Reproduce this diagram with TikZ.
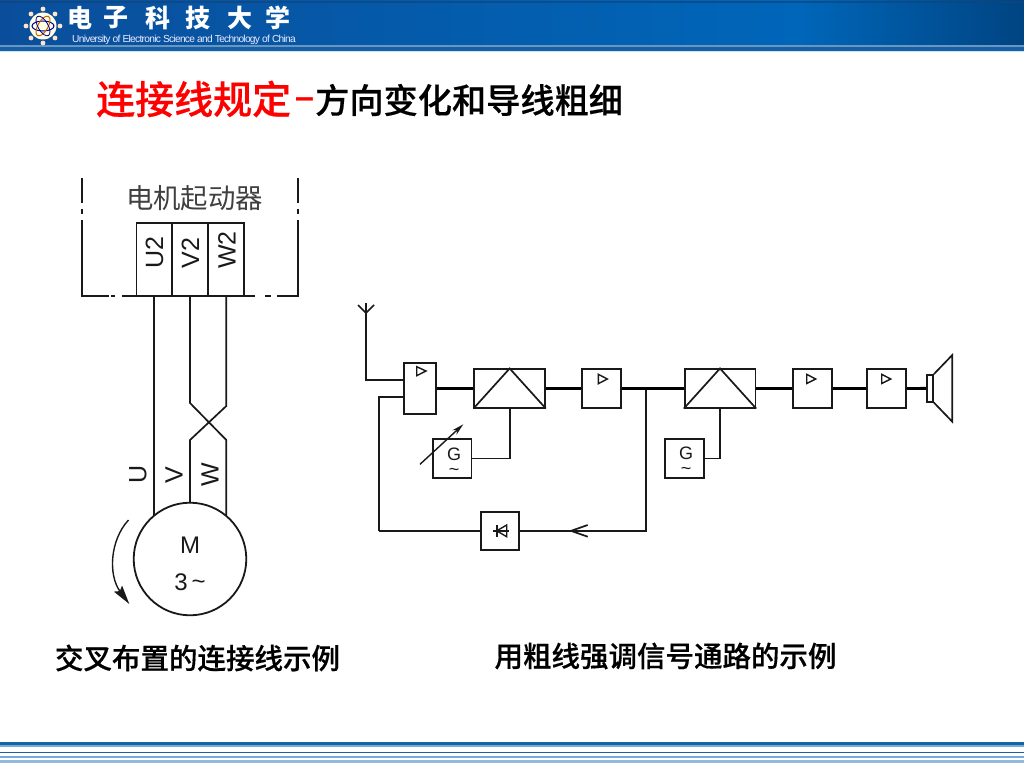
\documentclass[tikz,border=0pt]{standalone}
\usepackage{fontspec}
\setmainfont{Liberation Sans}
\newfontfamily\cjk{Noto Sans CJK SC}
\newfontfamily\cjkm[FakeBold=0.45]{Noto Sans CJK SC Medium}
\usetikzlibrary{arrows.meta}
\definecolor{hdtop}{RGB}{15,70,125}
\definecolor{hdl}{RGB}{10,78,155}
\definecolor{hdm}{RGB}{0,102,185}
\definecolor{hdr}{RGB}{0,68,130}
\definecolor{hdbar}{RGB}{105,150,190}
\definecolor{hdlow}{RGB}{25,95,165}
\definecolor{hdlight}{RGB}{195,230,250}
\definecolor{foot}{RGB}{20,100,165}
\definecolor{footl}{RGB}{120,170,215}
\definecolor{ink}{RGB}{25,25,25}
\tikzset{
  wire/.style={draw=ink,line width=1.7pt},
  thick wire/.style={draw=black,line width=2.8pt},
  boxn/.style={draw=ink,line width=1.7pt,inner sep=0pt,fill=white},
  lab/.style={inner sep=0pt,text=ink},
  tri/.style={draw=ink,line width=1.4pt,line join=miter},
  bordash/.style={draw=ink,line width=1.9pt},
  calli/.style={inner sep=0pt,text=white,font=\cjk\bfseries\fontsize{25}{28}\selectfont},
  capt/.style={inner sep=0pt,anchor=center,font=\cjkm\fontsize{28.5}{32}\selectfont},
  genlab/.style={inner sep=0pt,text=ink,align=center,font=\fontsize{18}{15}\selectfont},
}
\newcommand{\fs}[1]{\fontsize{#1}{#1}\selectfont}
\begin{document}
\begin{tikzpicture}[x=1pt,y=-1pt]
\useasboundingbox (0,0) rectangle (1024,768);
% header
\fill[white] (0,0) rectangle (1024,768);
\shade[left color=hdl,right color=hdm] (0,1) rectangle (800,45);
\shade[left color=hdm,right color=hdr] (800,1) rectangle (1024,45);
\fill[hdtop,opacity=.7] (0,1) rectangle (1024,3);
\fill[hdbar] (0,45) rectangle (1024,47);
\fill[hdlow] (0,47) rectangle (1024,51);
\fill[hdlight] (0,51) rectangle (1024,52.5);
% logo
\foreach \a in {0,45,...,315}{\fill[white!80!orange] ([shift={(\a:17)}]43,26) circle (2.4);}
\fill[white!90!yellow] (43,26) circle (13.5);
\draw[blue!60!black,line width=1pt] (43,26) ellipse (11 and 5);
\draw[orange!80!black,line width=1pt,rotate around={60:(43,26)}] (43,26) ellipse (11 and 5);
\draw[blue!50!black,line width=.8pt,rotate around={-60:(43,26)}] (43,26) ellipse (11 and 5);
% header text
\node[calli] (h1) at (80,18) {电};
\node[calli] (h2) at (116,18) {子};
\node[calli] (h3) at (158,18) {科};
\node[calli] (h4) at (198,18) {技};
\node[calli] (h5) at (240,18) {大};
\node[calli] (h6) at (278,18) {学};
\node[inner sep=0pt,text=white!92!blue,anchor=west,font=\fs{10.2}] (hsub) at (72,39.5) {\addfontfeature{LetterSpace=-7}University of Electronic Science and Technology of China};
% footer
\fill[foot] (0,741.5) rectangle (1024,745);
\fill[footl] (0,745) rectangle (1024,746.5);
\fill[foot] (0,752) rectangle (1024,753.2);
\fill[footl] (0,756) rectangle (1024,757.5);
\fill[footl!80!white] (0,760) rectangle (1024,762.5);
% title
\node[inner sep=0pt,anchor=west,text=red,font=\cjkm\fs{39}] (t1) at (96,99) {连接线规定};
\node[inner sep=0pt,anchor=center,text=red,font=\bfseries\fs{34}] (t2) at (304.5,103) {–};
\node[inner sep=0pt,anchor=west,font=\cjkm\fs{34.2}] (t3) at (315,100) {方向变化和导线粗细};
% captions
\node[capt] (c1) at (197.5,658) {交叉布置的连接线示例};
\node[capt] (c2) at (665.5,656) {用粗线强调信号通路的示例};
% starter frame
\node[inner sep=0pt,text=black!75,font=\cjk\fs{27.4}] (starter) at (194.5,198) {电机起动器};
\coordinate (tl) at (82.3,178); \coordinate (bl) at (82.3,296);
\coordinate (tr) at (298,178); \coordinate (br) at (298,296);
\draw[bordash] (tl) -- (82.3,203) (82.3,209) -- (82.3,214) (82.3,220) -- (bl) -- (109,296) (111,296) -- (115,296) (122,296) -- (137,296);
\draw[bordash] (tr) -- (298,203) (298,209) -- (298,214) (298,220) -- (br) -- (277,296) (271,296) -- (265,296) (255,296) -- (244,296);
\draw[bordash] (137,296) -- (155,296) (162,296) -- (168,296) (172,296) -- (208,296) (213,296) -- (220,296) (227,296) -- (244,296);
\node[boxn,fill=none,minimum width=35.3pt,minimum height=72.7pt] (u2) at (154,259.65) {};
\node[boxn,fill=none,minimum width=36pt,minimum height=72.7pt] (v2) at (190,259.65) {};
\node[boxn,fill=none,minimum width=36.3pt,minimum height=72.7pt] (w2) at (226.15,259.65) {};
\node[lab,rotate=90,font=\fs{25}] (lu2) at (154.5,253) {U2};
\node[lab,rotate=90,font=\fs{25}] (lv2) at (190.5,253) {V2};
\node[lab,rotate=90,font=\fs{25}] (lw2) at (227,250) {W2};
% motor
\node[draw=ink,line width=1.8pt,circle,inner sep=0pt,minimum size=112.6pt] (motor) at (190,559) {};
\node[lab,font=\fs{24}] (m) at (190,545) {M};
\node[lab,font=\fs{24}] (m3) at (190,582) {3\,\raisebox{1pt}{\textasciitilde}};
\coordinate (ue) at (154,515); \coordinate (ve) at (190,503); \coordinate (we) at (226.3,515);
\draw[wire] (u2.south) -- (u2.south |- ue);
\draw[wire] (v2.south) -- (190,403) -- (226.3,440) -- (we);
\draw[wire] (w2.south) -- (226.3,406) -- (190,440) -- (ve);
\node[lab,rotate=90,font=\fs{25}] (lu) at (138,474) {U};
\node[lab,rotate=90,font=\fs{25}] (lv) at (174,475) {V};
\node[lab,rotate=90,font=\fs{25}] (lw) at (210,475) {W};
\coordinate (rota) at (128.5,520); \coordinate (rotb) at (129.3,604);
\draw[draw=ink,line width=1.4pt,-{Stealth[length=19pt,width=10pt,inset=3pt]}] (rota) .. controls (110,540) and (108,575) .. (rotb);
% right diagram
\coordinate (anttop) at (366,303); \coordinate (antj) at (366,313);
\draw[wire] (358,305) -- (antj) -- (374,305);
\node[boxn,minimum width=32.3pt,minimum height=51pt] (a1) at (420.15,388.2) {};
\node[boxn,minimum width=70.7pt,minimum height=38.4pt] (mx1) at (509.65,388.5) {};
\node[boxn,minimum width=38.7pt,minimum height=38.4pt] (a2) at (601.65,388.5) {};
\node[boxn,minimum width=70.7pt,minimum height=38.4pt] (mx2) at (720,388.5) {};
\node[boxn,minimum width=38.7pt,minimum height=38.4pt] (a3) at (812.65,388.5) {};
\node[boxn,minimum width=38.7pt,minimum height=38.4pt] (a4) at (886.65,388.5) {};
\node[boxn,minimum width=38.7pt,minimum height=38.7pt] (g1) at (452.2,458.35) {};
\node[boxn,minimum width=38.7pt,minimum height=38.4pt] (g2) at (684.35,458.5) {};
\node[boxn,minimum width=38.3pt,minimum height=38.3pt] (dio) at (499.85,530.85) {};
\node[boxn,minimum width=6.3pt,minimum height=26.7pt] (spk) at (929.85,388.35) {};
\coordinate (in1) at (404,380); \coordinate (in2) at (404,396.7);
\coordinate (jct) at (646.3,388.5); \coordinate (jctb) at (646.3,530.85);
\coordinate (lb) at (379.3,530.85); \coordinate (lt) at (379.3,396.7);
\draw[wire] (anttop) -- (366,380) -- (in1);
\draw[wire] (in2) -- (lt) -- (lb);
\draw[wire,line width=2.2pt] (lb) -- (dio.west);
\draw[wire] (dio.east) -- (jctb) -- (jct);
\draw[thick wire] (a1.east |- mx1.west) -- (mx1.west);
\draw[thick wire] (mx1.east) -- (a2.west);
\draw[thick wire] (a2.east) -- (mx2.west);
\draw[thick wire] (mx2.east) -- (a3.west);
\draw[thick wire] (a3.east) -- (a4.west);
\draw[thick wire] (a4.east) -- (spk.west);
\draw[wire] (g1.east) -| (mx1.south);
\draw[wire] (g2.east) -| (mx2.south);
\draw[tri,line width=1.7pt] (mx1.south west) -- (mx1.north) -- (mx1.south east);
\draw[tri,line width=1.7pt] (mx2.south west) -- (mx2.north) -- (mx2.south east);
\draw[tri] (416.7,366.7) -- (426,371) -- (416.7,375.7) -- cycle;
\draw[tri] (598.3,374.3) -- (607.3,379) -- (598.3,383.7) -- cycle;
\draw[tri] (806.7,374.3) -- (815.7,379) -- (806.7,383.5) -- cycle;
\draw[tri] (881.7,374.3) -- (890.7,379) -- (881.7,383.5) -- cycle;
\draw[wire,line join=miter] (spk.north east) -- (952.3,355) -- (952.3,421.7) -- (spk.south east);
\node[genlab] (g1t) at (454,462) {G\\\textasciitilde};
\node[genlab] (g2t) at (686,461) {G\\\textasciitilde};
\coordinate (vara) at (420,464.3); \coordinate (varb) at (463.3,424.3);
\draw[draw=ink,line width=1.4pt,-{Stealth[length=12pt,width=6pt]}] (vara) -- (varb);
% feedback arrow
\draw[wire,line join=miter] (587.7,525) -- (571,530.85) -- (587.7,536.7);
% diode
\draw[tri] (496.7,530.85) -- (506.7,525) -- (506.7,536.7) -- cycle;
\draw[wire] (496.7,525) -- (496.7,536.7);
\draw[wire] (492.7,530.85) -- (509,530.85);
\end{tikzpicture}
\end{document}
